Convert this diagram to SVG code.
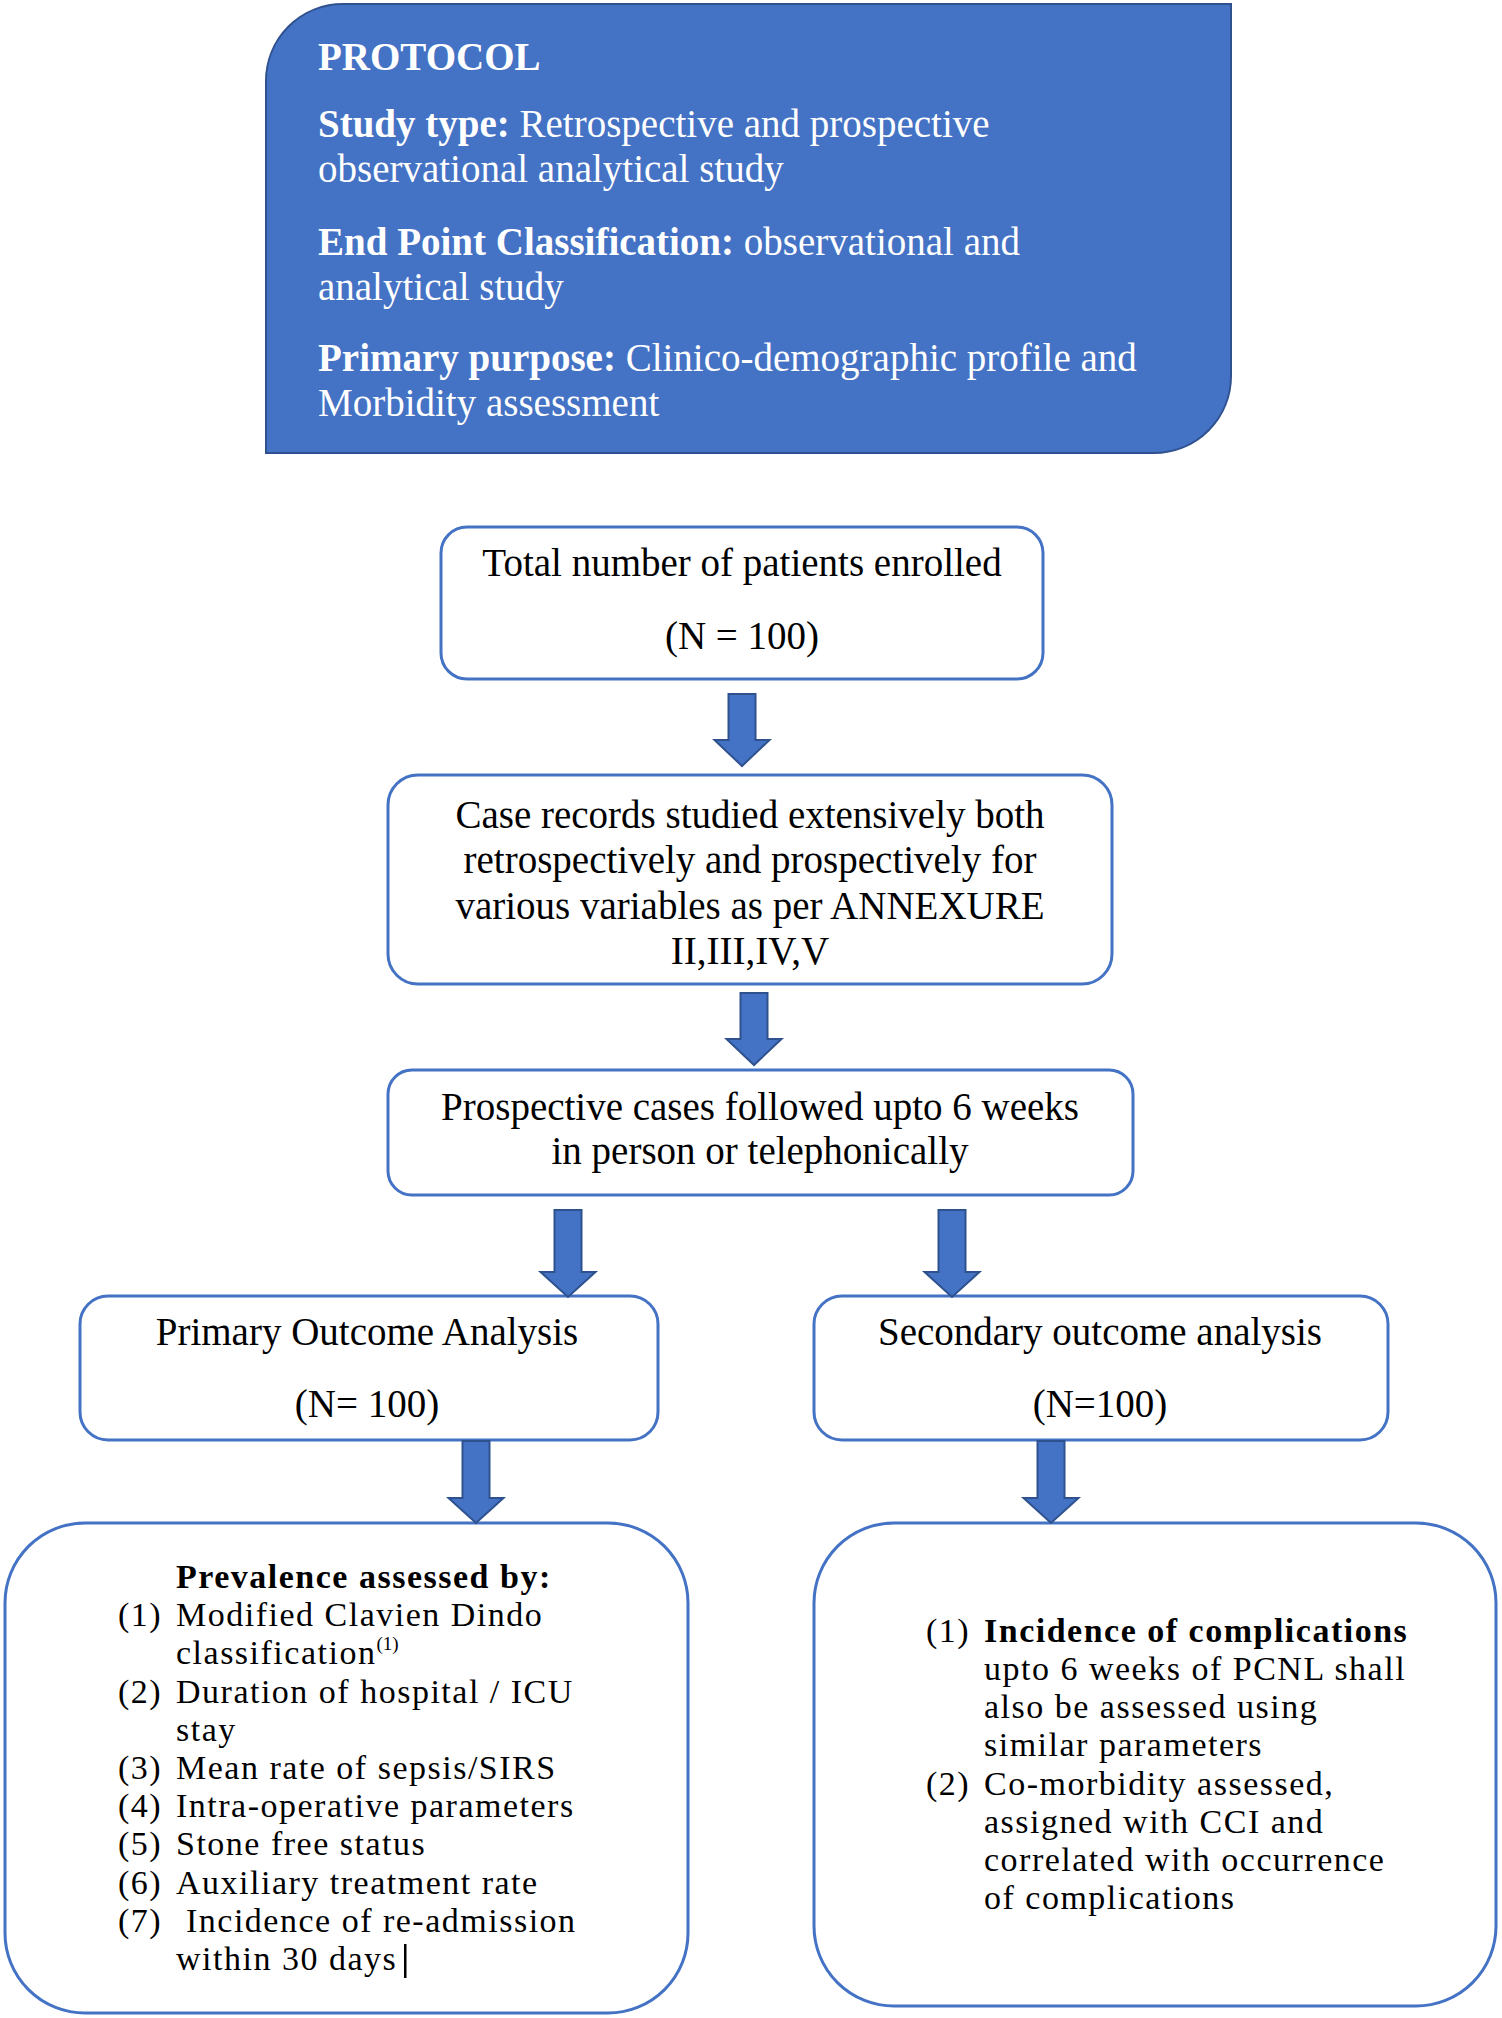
<svg xmlns="http://www.w3.org/2000/svg" width="1502" height="2018" viewBox="0 0 1502 2018">
<style>
  text { font-family: "Liberation Serif", "Times New Roman", serif; font-size: 39px; fill: #000; }
  .w { fill: #fff; }
  .b { font-weight: bold; }
  .c { text-anchor: middle; }
  .s { font-size: 34px; letter-spacing: 1.5px; }
  .box { fill: #fff; stroke: #4472C4; stroke-width: 3; }
  .arrow { fill: #4472C4; stroke: #2F528F; stroke-width: 2; }
</style>
<rect width="1502" height="2018" fill="#fff"/>

<g id="protocol">
  <path d="M266,453 V81 A77,77 0 0 1 343,4 H1231 V376 A77,77 0 0 1 1154,453 Z" fill="#4472C4" stroke="#2F528F" stroke-width="2"/>
  <text class="w b" x="318" y="70">PROTOCOL</text>
  <text class="w" x="318" y="137"><tspan class="b">Study type:</tspan> Retrospective and prospective</text>
  <text class="w" x="318" y="182">observational analytical study</text>
  <text class="w" x="318" y="255"><tspan class="b">End Point Classification:</tspan> observational and</text>
  <text class="w" x="318" y="300">analytical study</text>
  <text class="w" x="318" y="371"><tspan class="b">Primary purpose:</tspan> Clinico-demographic profile and</text>
  <text class="w" x="318" y="416">Morbidity assessment</text>
</g>

<g id="enrolled">
  <rect class="box" x="441" y="527" width="602" height="152" rx="26"/>
  <text class="c" x="742" y="576">Total number of patients enrolled</text>
  <text class="c" x="742" y="649">(N = 100)</text>
</g>

<g id="case-records">
  <rect class="box" x="388" y="775" width="724" height="209" rx="30"/>
  <text class="c" x="750" y="828">Case records studied extensively both</text>
  <text class="c" x="750" y="873">retrospectively and prospectively for</text>
  <text class="c" x="750" y="919">various variables as per ANNEXURE</text>
  <text class="c" x="750" y="964">II,III,IV,V</text>
</g>

<g id="prospective">
  <rect class="box" x="388" y="1070" width="745" height="125" rx="24"/>
  <text class="c" x="760" y="1120">Prospective cases followed upto 6 weeks</text>
  <text class="c" x="760" y="1164">in person or telephonically</text>
</g>

<g id="primary-outcome">
  <rect class="box" x="80" y="1296" width="578" height="144" rx="28"/>
  <text class="c" x="367" y="1345">Primary Outcome Analysis</text>
  <text class="c" x="367" y="1417">(N= 100)</text>
</g>

<g id="secondary-outcome">
  <rect class="box" x="814" y="1296" width="574" height="144" rx="28"/>
  <text class="c" x="1100" y="1345">Secondary outcome analysis</text>
  <text class="c" x="1100" y="1417">(N=100)</text>
</g>

<g id="prevalence">
  <rect class="box" x="5" y="1523" width="683" height="490" rx="80"/>
  <text class="s b" x="176" y="1588">Prevalence assessed by:</text>
  <text class="s" x="118" y="1626">(1)</text><text class="s" x="176" y="1626">Modified Clavien Dindo</text>
  <text class="s" x="176" y="1664">classification<tspan font-size="19" letter-spacing="0" dy="-14">(1)</tspan></text>
  <text class="s" x="118" y="1703">(2)</text><text class="s" x="176" y="1703">Duration of hospital / ICU</text>
  <text class="s" x="176" y="1741">stay</text>
  <text class="s" x="118" y="1779">(3)</text><text class="s" x="176" y="1779">Mean rate of sepsis/SIRS</text>
  <text class="s" x="118" y="1817">(4)</text><text class="s" x="176" y="1817">Intra-operative parameters</text>
  <text class="s" x="118" y="1855">(5)</text><text class="s" x="176" y="1855">Stone free status</text>
  <text class="s" x="118" y="1894">(6)</text><text class="s" x="176" y="1894">Auxiliary treatment rate</text>
  <text class="s" x="118" y="1932">(7)</text><text class="s" x="186" y="1932">Incidence of re-admission</text>
  <text class="s" x="176" y="1970">within 30 days</text>
  <rect x="404" y="1944" width="2.5" height="34" fill="#000"/>
</g>

<g id="incidence">
  <rect class="box" x="814" y="1523" width="682" height="483" rx="80"/>
  <text class="s" x="926" y="1642">(1)</text><text class="s b" x="984" y="1642">Incidence of complications</text>
  <text class="s" x="984" y="1680">upto 6 weeks of PCNL shall</text>
  <text class="s" x="984" y="1718">also be assessed using</text>
  <text class="s" x="984" y="1756">similar parameters</text>
  <text class="s" x="926" y="1795">(2)</text><text class="s" x="984" y="1795">Co-morbidity assessed,</text>
  <text class="s" x="984" y="1833">assigned with CCI and</text>
  <text class="s" x="984" y="1871">correlated with occurrence</text>
  <text class="s" x="984" y="1909">of complications</text>
</g>

<g id="connectors">
  <path class="arrow" d="M728.5,694 H755.5 V740 H769.5 L742,766 L714.5,740 H728.5 Z"/>
  <path class="arrow" d="M740.5,993 H767.5 V1039 H781.5 L754,1065 L726.5,1039 H740.5 Z"/>
  <path class="arrow" d="M554.5,1210 H581.5 V1272 H595.5 L568,1297 L540.5,1272 H554.5 Z"/>
  <path class="arrow" d="M938.5,1210 H965.5 V1272 H979.5 L952,1297 L924.5,1272 H938.5 Z"/>
  <path class="arrow" d="M462.5,1441 H489.5 V1498 H503.5 L476,1523 L448.5,1498 H462.5 Z"/>
  <path class="arrow" d="M1037.5,1441 H1064.5 V1498 H1078.5 L1051,1523 L1023.5,1498 H1037.5 Z"/>
</g>
</svg>
